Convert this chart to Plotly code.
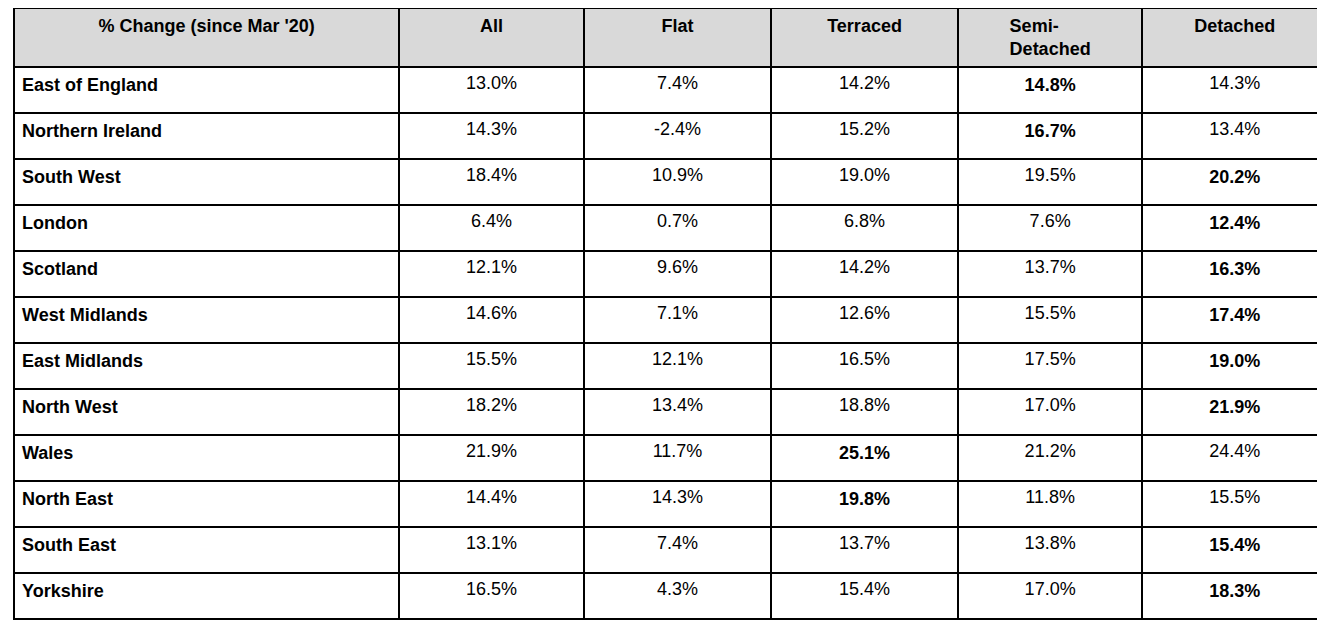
import plotly.graph_objects as go

columns = ["% Change (since Mar '20)", "All", "Flat", "Terraced", "Semi-<br>Detached", "Detached"]
regions = ["East of England", "Northern Ireland", "South West", "London", "Scotland",
           "West Midlands", "East Midlands", "North West", "Wales", "North East",
           "South East", "Yorkshire"]
all_types = ["13.0%", "14.3%", "18.4%", "6.4%", "12.1%", "14.6%", "15.5%", "18.2%", "21.9%", "14.4%", "13.1%", "16.5%"]
flat = ["7.4%", "-2.4%", "10.9%", "0.7%", "9.6%", "7.1%", "12.1%", "13.4%", "11.7%", "14.3%", "7.4%", "4.3%"]
terraced = ["14.2%", "15.2%", "19.0%", "6.8%", "14.2%", "12.6%", "16.5%", "18.8%", "25.1%", "19.8%", "13.7%", "15.4%"]
semi = ["14.8%", "16.7%", "19.5%", "7.6%", "13.7%", "15.5%", "17.5%", "17.0%", "21.2%", "11.8%", "13.8%", "17.0%"]
detached = ["14.3%", "13.4%", "20.2%", "12.4%", "16.3%", "17.4%", "19.0%", "21.9%", "24.4%", "15.5%", "15.4%", "18.3%"]

# which property type is highlighted in bold for each region
best = ["semi", "semi", "detached", "detached", "detached", "detached", "detached",
        "detached", "terraced", "terraced", "detached", "detached"]


def bolden(vals, key):
    return ["<b>%s</b>" % v if b == key else v for v, b in zip(vals, best)]


cells = [
    ["<b>%s</b>" % r for r in regions],
    all_types,
    flat,
    bolden(terraced, "terraced"),
    bolden(semi, "semi"),
    bolden(detached, "detached"),
]

fig = go.Figure(go.Table(
    columnwidth=[386, 185, 188, 187, 185, 185],
    header=dict(
        values=["<b>%s</b>" % c for c in columns],
        fill_color="#d9d9d9",
        line=dict(color="black", width=2),
        align="center",
        font=dict(family="Liberation Sans, Arial", size=18, color="black"),
        height=56,
    ),
    cells=dict(
        values=cells,
        fill_color="white",
        line=dict(color="black", width=2),
        align=["left", "center", "center", "center", "center", "center"],
        font=dict(family="Liberation Sans, Arial", size=18, color="black"),
        height=46,
    ),
))
fig.update_layout(width=1325, height=629, margin=dict(l=6, r=6, t=0, b=0),
                  paper_bgcolor="white")
fig.write_html("out.html")
